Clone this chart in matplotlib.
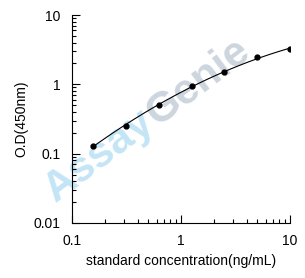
import numpy as np
import matplotlib
matplotlib.use('Agg')
import matplotlib.pyplot as plt
from matplotlib.ticker import LogLocator, FixedLocator, FixedFormatter

plt.rcParams['font.family'] = ['Liberation Sans', 'DejaVu Sans']

# standard curve data
conc = [0.156, 0.3125, 0.625, 1.25, 2.5, 5, 10]
od = [0.13, 0.254, 0.50, 0.94, 1.51, 2.47, 3.22]
x_ticks = [0.1, 1, 10]
x_labels = ['0.1', '1', '10']
y_ticks = [0.01, 0.1, 1, 10]
y_labels = ['0.01', '0.1', '1', '10']

fig = plt.figure(figsize=(3.05, 2.78), dpi=100)
ax = fig.add_axes([0.236, 0.198, 0.715, 0.748])

# watermark, drawn behind the data
jx, jy = 157 / 305, 1 - 127 / 278
fig.text(jx, jy, 'Assay', fontsize=31, fontweight='bold', color='#c4e5f6',
         rotation=37, rotation_mode='anchor', ha='right', va='baseline', zorder=0)
fig.text(jx, jy, 'Genie', fontsize=31, fontweight='bold', color='#cdd5de',
         rotation=37, rotation_mode='anchor', ha='left', va='baseline', zorder=0)
ax.set_zorder(1)
ax.patch.set_alpha(0)

# fitted line (quadratic in log-log space)
lx, ly = np.log10(conc), np.log10(od)
coef = np.polyfit(lx, ly, 2)
xs = np.linspace(lx[0], lx[-1], 100)
ax.plot(10**xs, 10**np.polyval(coef, xs), color='black', lw=0.8)
ax.plot(conc, od, 'o', color='black', ms=3.5)

ax.set_xscale('log')
ax.set_yscale('log')
ax.set_xlim(0.1, 10)
ax.set_ylim(0.01, 10)

ax.xaxis.set_major_locator(FixedLocator(x_ticks))
ax.xaxis.set_major_formatter(FixedFormatter(x_labels))
ax.yaxis.set_major_locator(FixedLocator(y_ticks))
ax.yaxis.set_major_formatter(FixedFormatter(y_labels))
ax.xaxis.set_minor_locator(LogLocator(base=10, subs=np.arange(2, 10)))
ax.yaxis.set_minor_locator(LogLocator(base=10, subs=np.arange(2, 10)))
ax.xaxis.set_minor_formatter(plt.NullFormatter())
ax.yaxis.set_minor_formatter(plt.NullFormatter())

ax.tick_params(which='both', direction='in', width=0.8, labelsize=10, pad=8)
ax.tick_params(which='major', length=6)
ax.tick_params(which='minor', length=3)

for s in ['top', 'right']:
    ax.spines[s].set_visible(False)

ax.set_xlabel('standard concentration(ng/mL)', fontsize=10, labelpad=4)
ax.set_ylabel('O.D(450nm)', fontsize=10, labelpad=4)

fig.savefig('out.png', dpi=100)
